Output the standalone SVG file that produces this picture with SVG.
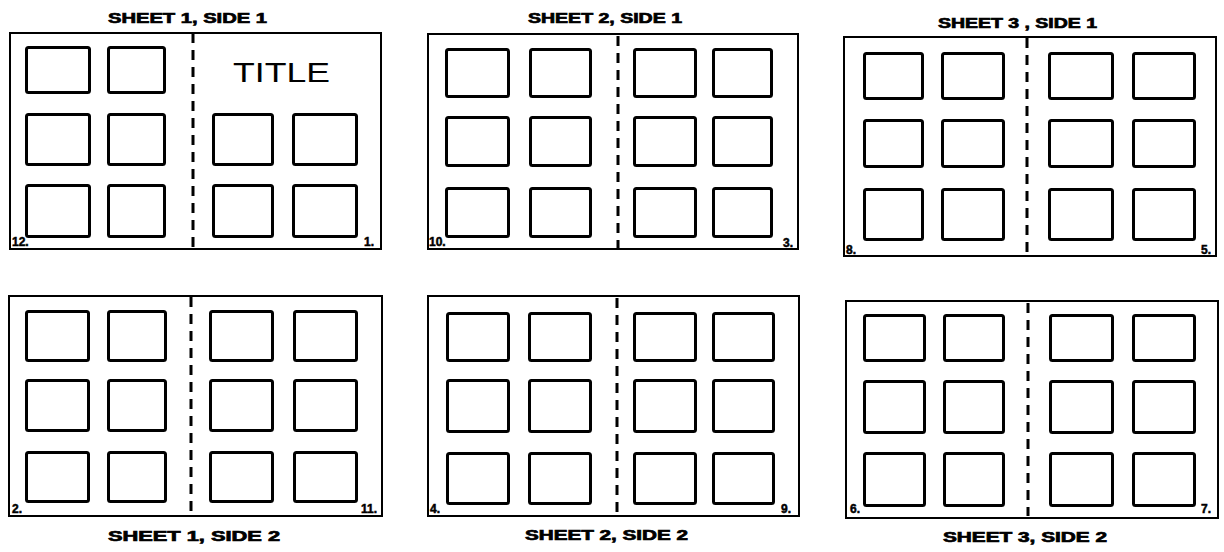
<svg xmlns="http://www.w3.org/2000/svg" width="1224" height="552" viewBox="0 0 1224 552">
<style>
.sheet{fill:none;stroke:#000;stroke-width:2}
.box{fill:none;stroke:#000;stroke-width:3;rx:2}
.fold{stroke:#000;stroke-width:3;stroke-dasharray:10 7}
.lbl{font-family:"Liberation Sans",Arial,sans-serif;font-weight:bold;font-size:14px;fill:#000;stroke:#000;stroke-width:0.7}
.num{font-family:"Liberation Sans",Arial,sans-serif;font-weight:bold;font-size:12px;fill:#000;stroke:#000;stroke-width:0.5}
.title{font-family:"Liberation Sans",Arial,sans-serif;font-size:27px;fill:#000}
</style>
<rect width="1224" height="552" fill="#fff"/>

<g id="sheet1-side1">
<text class="lbl" x="108" y="23" textLength="159" lengthAdjust="spacingAndGlyphs">SHEET 1, SIDE 1</text>
<rect class="sheet" x="10" y="33" width="371" height="216"/>
<line class="fold" x1="193" y1="33" x2="193" y2="249"/>
<rect class="box" x="26.5" y="47.5" width="63" height="45"/>
<rect class="box" x="108.5" y="47.5" width="56" height="45"/>
<rect class="box" x="26.5" y="114.5" width="63" height="50"/>
<rect class="box" x="108.5" y="114.5" width="56" height="50"/>
<rect class="box" x="213.5" y="114.5" width="59" height="50"/>
<rect class="box" x="293.5" y="114.5" width="63" height="50"/>
<rect class="box" x="26.5" y="185.5" width="63" height="51"/>
<rect class="box" x="108.5" y="185.5" width="56" height="51"/>
<rect class="box" x="213.5" y="185.5" width="59" height="51"/>
<rect class="box" x="293.5" y="185.5" width="63" height="51"/>
<text class="title" x="233" y="82" textLength="97" lengthAdjust="spacingAndGlyphs">TITLE</text>
<text class="num" x="12" y="246">12.</text>
<text class="num" x="364" y="246">1.</text>
</g>

<g id="sheet2-side1">
<text class="lbl" x="528" y="23" textLength="154" lengthAdjust="spacingAndGlyphs">SHEET 2, SIDE 1</text>
<rect class="sheet" x="428" y="34" width="370" height="215"/>
<line class="fold" x1="618" y1="36" x2="618" y2="249"/>
<rect class="box" x="446.5" y="49.5" width="62" height="47"/>
<rect class="box" x="530.5" y="49.5" width="60" height="47"/>
<rect class="box" x="634.5" y="49.5" width="61" height="47"/>
<rect class="box" x="713.5" y="49.5" width="58" height="47"/>
<rect class="box" x="446.5" y="117.5" width="62" height="48"/>
<rect class="box" x="530.5" y="117.5" width="60" height="48"/>
<rect class="box" x="634.5" y="117.5" width="61" height="48"/>
<rect class="box" x="713.5" y="117.5" width="58" height="48"/>
<rect class="box" x="446.5" y="188.5" width="62" height="48"/>
<rect class="box" x="530.5" y="188.5" width="60" height="48"/>
<rect class="box" x="634.5" y="188.5" width="61" height="48"/>
<rect class="box" x="713.5" y="188.5" width="58" height="48"/>
<text class="num" x="429" y="246">10.</text>
<text class="num" x="783" y="247">3.</text>
</g>

<g id="sheet3-side1">
<text class="lbl" x="938" y="28" textLength="159" lengthAdjust="spacingAndGlyphs">SHEET 3 , SIDE 1</text>
<rect class="sheet" x="844" y="37" width="372" height="219"/>
<line class="fold" x1="1027" y1="38" x2="1027" y2="256"/>
<rect class="box" x="864.5" y="53.5" width="58" height="45"/>
<rect class="box" x="942.5" y="53.5" width="61" height="45"/>
<rect class="box" x="1049.5" y="53.5" width="63" height="45"/>
<rect class="box" x="1133.5" y="53.5" width="61" height="45"/>
<rect class="box" x="864.5" y="120.5" width="58" height="46"/>
<rect class="box" x="942.5" y="120.5" width="61" height="46"/>
<rect class="box" x="1049.5" y="120.5" width="63" height="46"/>
<rect class="box" x="1133.5" y="120.5" width="61" height="46"/>
<rect class="box" x="864.5" y="189.5" width="58" height="50"/>
<rect class="box" x="942.5" y="189.5" width="61" height="50"/>
<rect class="box" x="1049.5" y="189.5" width="63" height="50"/>
<rect class="box" x="1133.5" y="189.5" width="61" height="50"/>
<text class="num" x="846" y="254">8.</text>
<text class="num" x="1201" y="254">5.</text>
</g>

<g id="sheet1-side2">
<rect class="sheet" x="9" y="296" width="373" height="220"/>
<line class="fold" x1="191" y1="297" x2="191" y2="512"/>
<rect class="box" x="26.5" y="311.5" width="62" height="49"/>
<rect class="box" x="108.5" y="311.5" width="57" height="49"/>
<rect class="box" x="210.5" y="311.5" width="62" height="49"/>
<rect class="box" x="294.5" y="311.5" width="62" height="49"/>
<rect class="box" x="26.5" y="380.5" width="62" height="50"/>
<rect class="box" x="108.5" y="380.5" width="57" height="50"/>
<rect class="box" x="210.5" y="380.5" width="62" height="50"/>
<rect class="box" x="294.5" y="380.5" width="62" height="50"/>
<rect class="box" x="26.5" y="452.5" width="62" height="49"/>
<rect class="box" x="108.5" y="452.5" width="57" height="49"/>
<rect class="box" x="210.5" y="452.5" width="62" height="49"/>
<rect class="box" x="294.5" y="452.5" width="62" height="49"/>
<text class="num" x="12" y="513">2.</text>
<text class="num" x="361" y="513">11.</text>
<text class="lbl" x="108" y="541" textLength="172" lengthAdjust="spacingAndGlyphs">SHEET 1, SIDE 2</text>
</g>

<g id="sheet2-side2">
<rect class="sheet" x="428" y="296" width="371" height="220"/>
<line class="fold" x1="617" y1="298" x2="617" y2="515"/>
<rect class="box" x="447.5" y="313.5" width="61" height="47"/>
<rect class="box" x="529.5" y="313.5" width="61" height="47"/>
<rect class="box" x="634.5" y="313.5" width="61" height="47"/>
<rect class="box" x="713.5" y="313.5" width="60" height="47"/>
<rect class="box" x="447.5" y="380.5" width="61" height="51"/>
<rect class="box" x="529.5" y="380.5" width="61" height="51"/>
<rect class="box" x="634.5" y="380.5" width="61" height="51"/>
<rect class="box" x="713.5" y="380.5" width="60" height="51"/>
<rect class="box" x="447.5" y="453.5" width="61" height="50"/>
<rect class="box" x="529.5" y="453.5" width="61" height="50"/>
<rect class="box" x="634.5" y="453.5" width="61" height="50"/>
<rect class="box" x="713.5" y="453.5" width="60" height="50"/>
<text class="num" x="430" y="513">4.</text>
<text class="num" x="781" y="513">9.</text>
<text class="lbl" x="525" y="540" textLength="163" lengthAdjust="spacingAndGlyphs">SHEET 2, SIDE 2</text>
</g>

<g id="sheet3-side2">
<rect class="sheet" x="846" y="301" width="372" height="217"/>
<line class="fold" x1="1028" y1="303" x2="1028" y2="516"/>
<rect class="box" x="864.5" y="315.5" width="60" height="45"/>
<rect class="box" x="944.5" y="315.5" width="59" height="45"/>
<rect class="box" x="1050.5" y="315.5" width="62" height="45"/>
<rect class="box" x="1133.5" y="315.5" width="61" height="45"/>
<rect class="box" x="864.5" y="381.5" width="60" height="51"/>
<rect class="box" x="944.5" y="381.5" width="59" height="51"/>
<rect class="box" x="1050.5" y="381.5" width="62" height="51"/>
<rect class="box" x="1133.5" y="381.5" width="61" height="51"/>
<rect class="box" x="864.5" y="453.5" width="60" height="52"/>
<rect class="box" x="944.5" y="453.5" width="59" height="52"/>
<rect class="box" x="1050.5" y="453.5" width="62" height="52"/>
<rect class="box" x="1133.5" y="453.5" width="61" height="52"/>
<text class="num" x="850" y="513">6.</text>
<text class="num" x="1201" y="513">7.</text>
<text class="lbl" x="943" y="542" textLength="164" lengthAdjust="spacingAndGlyphs">SHEET 3, SIDE 2</text>
</g>
</svg>
